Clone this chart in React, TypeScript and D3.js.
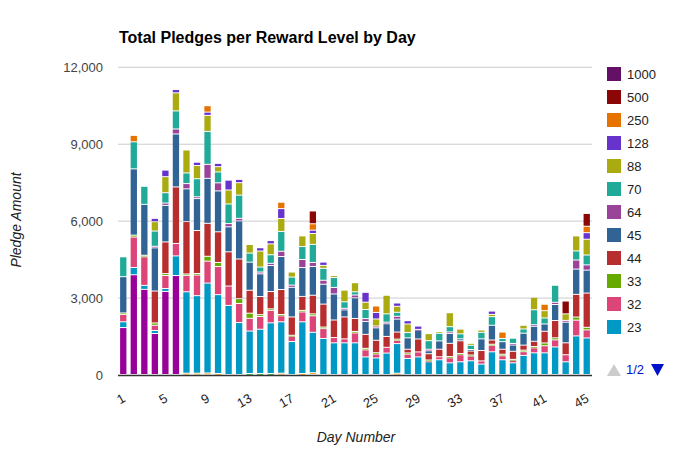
import React from "react";
import * as d3 from "d3";

const days = d3.range(1, 46);
const tickDays = [1, 5, 9, 13, 17, 21, 25, 29, 33, 37, 41, 45];
const yTicks = [0, 3000, 6000, 9000, 12000];

// series, bottom -> top
const lvlA = [0,0,0,0,0,0,50,50,60,40,0,0,0,0,0,50,0,40,70,0,0,0,0,0,0,0,50,0,0,0,0,0,0,0,0,0,0,0,0,0,0,0,0,0,0];
const lvlB = [0,0,0,0,0,0,0,0,0,0,0,0,40,40,40,0,0,0,0,0,0,0,0,0,0,0,0,0,0,0,0,0,0,0,0,0,0,0,0,0,0,0,0,0,0];
const lvlC = [1830,3890,3320,1600,3240,3860,0,0,0,0,0,0,0,0,0,0,0,0,0,0,0,0,0,0,0,0,0,0,0,0,0,0,0,0,0,0,0,0,0,0,0,0,0,0,0];
const v23 = [225,285,155,115,115,765,3175,3025,3505,3075,2695,2025,1655,1725,1975,2005,1285,2015,1575,1405,1235,1235,1235,685,645,835,1155,625,685,495,575,455,495,535,405,885,575,455,745,845,845,1075,495,1505,1425];
const v32 = [285,1185,1115,205,505,485,635,805,855,1095,755,745,495,495,485,235,205,385,645,385,205,155,385,275,155,225,125,165,195,30,115,195,275,185,125,245,155,95,145,195,275,275,275,615,315];
const v33 = [60,75,60,90,75,0,60,60,190,160,0,190,200,75,60,50,40,60,75,60,0,0,60,60,50,0,50,50,0,40,0,50,50,40,0,50,60,40,60,50,110,80,0,120,100];
const v44 = [0,0,0,1245,1235,2205,2045,1675,1285,1195,1335,1545,895,705,675,975,715,545,725,895,685,855,505,545,485,425,275,145,505,245,295,515,495,155,405,165,195,315,195,205,455,675,465,885,1335];
const v45 = [1415,2585,1985,1685,1425,2065,1275,1245,1755,1595,975,1485,1095,885,1015,1285,1155,1125,1125,775,1015,275,805,505,485,495,505,445,345,115,325,385,75,60,455,575,295,245,465,585,285,625,805,985,895];
const v64 = [0,0,0,60,90,195,205,70,545,315,125,100,0,70,85,205,85,315,155,155,255,60,110,110,70,60,110,0,30,60,0,60,0,0,0,0,0,60,0,60,0,85,70,355,205];
const v70 = [775,1055,705,595,405,705,415,705,1285,425,765,905,355,195,335,775,315,505,705,465,385,255,125,355,0,325,155,205,0,335,295,205,195,165,255,335,125,205,165,585,235,665,0,355,385];
const v88 = [0,0,0,365,625,705,895,515,625,205,545,485,335,625,425,505,195,415,425,115,75,455,355,285,275,725,235,335,0,275,60,545,185,75,90,90,0,0,145,485,285,0,255,585,615];
const v128 = [0,0,0,128,256,128,0,128,128,128,384,128,0,128,128,384,0,0,128,128,0,0,0,384,256,0,128,128,128,0,0,0,0,0,0,128,0,0,0,0,0,0,0,0,256];
const v250 = [0,250,0,0,0,0,0,0,250,0,0,0,0,0,0,250,0,0,250,0,0,0,0,0,250,0,0,0,0,0,0,0,0,0,0,0,250,0,0,0,250,0,0,0,250];
const v500 = [0,0,0,0,0,0,0,0,0,0,0,0,0,0,0,0,0,0,500,0,0,0,0,0,0,0,0,0,0,0,0,0,0,0,0,0,0,0,0,0,0,0,500,0,500];
const v1000 = [0,0,0,0,0,0,0,0,0,0,0,0,0,0,0,0,0,0,0,0,0,0,0,0,0,0,0,0,0,0,0,0,0,0,0,0,0,0,0,0,0,0,0,0,0];

const seriesNames = ["5", "10", "20", "23", "32", "33", "44", "45", "64", "70", "88", "128", "250", "500", "1000"];
const seriesValues = [lvlA, lvlB, lvlC, v23, v32, v33, v44, v45, v64, v70, v88, v128, v250, v500, v1000];
const seriesColors = ["#ff9900", "#109618", "#990099", "#0099c6", "#dd4477", "#66aa00", "#b82e2e", "#316395", "#994499", "#22aa99", "#aaaa11", "#6633cc", "#e67300", "#8b0707", "#651067"];
const legendNames = ["1000", "500", "250", "128", "88", "70", "64", "45", "44", "33", "32", "23"];

const W = 680, H = 463;
const L = 118, R = 592, T = 67.3, B = 375;

export default function App() {
  const x = d3.scaleBand<number>().domain(days).range([L, R]).paddingInner(0.4).paddingOuter(0.2);
  const y = d3.scaleLinear().domain([0, 12000]).range([B, T]);
  const table = days.map((d, i) => {
    const row: any = { day: d };
    seriesNames.forEach((n, k) => (row[n] = seriesValues[k][i]));
    return row;
  });
  const stack = d3.stack<any>().keys(seriesNames)(table);
  const bw = x.bandwidth();
  const font = "Arial, 'Liberation Sans', sans-serif";

  return (
    <svg width={W} height={H} style={{ display: "block", position: "absolute", left: 0, top: 0 }} fontFamily={font}>
      <rect width={W} height={H} fill="#fff" />
      <text x={119} y={43} fontSize={16} fontWeight="bold" fill="#000">Total Pledges per Reward Level by Day</text>
      {yTicks.map((t) => (
        <g key={t}>
          {t > 0 && <line x1={L} x2={R} y1={y(t)} y2={y(t)} stroke="#cccccc" strokeWidth={1} />}
          <text x={103} y={y(t) + 4.5} fontSize={13} textAnchor="end" fill="#444">{d3.format(",")(t)}</text>
        </g>
      ))}
      {stack.map((s, k) => (
        <g key={seriesNames[k]} fill={seriesColors[k]}>
          {s.map((p, i) => {
            const v = p[1] - p[0];
            if (v <= 0) return null;
            const y0 = y(p[0]);
            const y1 = y(p[1]);
            const h = Math.max(y0 - y1 - 1, 0.7);
            return <rect key={i} x={x(days[i])!} y={y1} width={bw} height={h} />;
          })}
        </g>
      ))}
      <line x1={L} x2={R} y1={B + 0.5} y2={B + 0.5} stroke="#333" strokeWidth={1.5} />
      {tickDays.map((d) => {
        const cx = x(d)! + bw / 2 + 3;
        return (
          <text key={d} transform={`translate(${cx},401) rotate(-30)`} fontSize={13} textAnchor="end" fill="#222">{d}</text>
        );
      })}
      <text x={356} y={442} fontSize={14} fontStyle="italic" textAnchor="middle" fill="#222">Day Number</text>
      <text transform="translate(21,220) rotate(-90)" fontSize={14} fontStyle="italic" textAnchor="middle" fill="#222">Pledge Amount</text>
      {legendNames.map((n, i) => {
        const k = seriesNames.indexOf(n);
        const cy = 74 + i * 23;
        return (
          <g key={n}>
            <rect x={607} y={cy - 7} width={14} height={14} fill={seriesColors[k]} />
            <text x={627} y={cy + 5} fontSize={13} fill="#222">{n}</text>
          </g>
        );
      })}
      <path d="M607,376 L614,364 L621,376 Z" fill="#cccccc" />
      <text x={626} y={374} fontSize={13} fill="#0011cc">1/2</text>
      <path d="M651,364 L664,364 L657.5,376 Z" fill="#0011cc" />
    </svg>
  );
}
